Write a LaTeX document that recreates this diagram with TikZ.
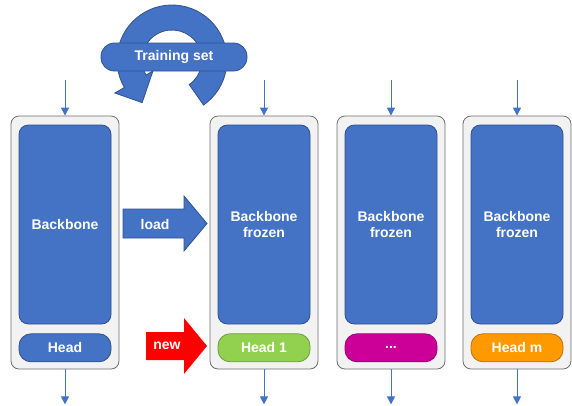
\documentclass[tikz,border=0pt]{standalone}
\usepackage{fontspec}
\setmainfont{Liberation Sans}
\usetikzlibrary{positioning}
\usetikzlibrary{calc,arrows.meta}

\definecolor{netblue}{HTML}{4472C4}
\definecolor{netedge}{HTML}{2F528F}
\definecolor{headgreen}{HTML}{92D050}
\definecolor{greenedge}{HTML}{6E9E3A}
\definecolor{headpink}{HTML}{CC0099}
\definecolor{pinkedge}{HTML}{99006F}
\definecolor{headorange}{HTML}{FF9900}
\definecolor{orangeedge}{HTML}{C07000}
\definecolor{boxgray}{HTML}{F2F2F2}
\definecolor{boxedge}{HTML}{6E6E6E}

\tikzset{
  label/.style={text=white,font=\fontsize{10.5}{12}\selectfont\bfseries},
  model/.style={draw=boxedge,fill=boxgray,rounded corners=6pt,line width=0.6pt,
    minimum width=81pt,minimum height=189.75pt},
  backbone/.style={label,draw=netedge,fill=netblue,rounded corners=7pt,line width=0.6pt,
    minimum width=69pt,minimum height=149.25pt,align=center},
  headbox/.style={label,draw=netedge,fill=netblue,rounded corners=9pt,line width=0.6pt,
    minimum width=69pt,minimum height=21pt},
  flow/.style={netblue,line width=0.75pt,-{Triangle[width=6pt,length=6pt]}},
}

\begin{document}
\begin{tikzpicture}[x=0.75pt,y=-0.75pt]
\useasboundingbox (0,0) rectangle (572,405);

% training loop
\coordinate (rc) at (172,60);
\filldraw[fill=netblue,draw=netedge,line width=0.6pt]
  ($(rc)+(55:55)$) arc[start angle=55,end angle=-210,radius=55]
  -- ($(rc)+(-210:66)$) -- ($(rc)+(-235:52)$) -- ($(rc)+(-210:22)$)
  -- ($(rc)+(-210:30)$) arc[start angle=-210,end angle=55,radius=30] -- cycle;
\node[headbox,minimum width=109.5pt,rounded corners=10pt] (train) at (174,57) {Training set};

% models
\node[model] (m1) at (65,242.5) {};
\node[backbone,below=6.75pt of m1.north] (bb1) {Backbone};
\node[headbox,below=6.75pt of bb1] (h1) {Head};

\node[model] (m2) at (264,242.5) {};
\node[backbone,below=6.75pt of m2.north] (bb2) {Backbone\\frozen};
\node[headbox,fill=headgreen,draw=greenedge,below=6.75pt of bb2] (h2) {Head 1};

\node[model] (m3) at (391,242.5) {};
\node[backbone,below=6.75pt of m3.north] (bb3) {Backbone\\frozen};
\node[headbox,fill=headpink,draw=pinkedge,below=6.75pt of bb3] (h3) {...};

\node[model] (m4) at (517,242.5) {};
\node[backbone,below=6.75pt of m4.north] (bb4) {Backbone\\frozen};
\node[headbox,fill=headorange,draw=orangeedge,below=6.75pt of bb4] (h4) {Head m};

% inputs and outputs
\foreach \i in {1,...,4} {
  \coordinate (in\i) at ($(m\i.north)+(0,-36)$);
  \coordinate (out\i) at ($(m\i.south)+(0,35)$);
  \draw[flow] (in\i) -- (m\i.north);
  \draw[flow] (m\i.south) -- (out\i);
}

% load / new arrows
\coordinate (loadtip) at (207,223.5);
\filldraw[fill=netblue,draw=netedge,line width=0.6pt] (loadtip) -- ++(-23,-27.5) -- ++(0,13)
  -- ++(-61,0) -- ++(0,29) -- ++(61,0) -- ++(0,13) -- cycle;
\node[label] (load) at (155,224) {load};

\coordinate (newtip) at (207,346);
\fill[red] (newtip) -- ++(-23,-28) -- ++(0,14) -- ++(-38,0) -- ++(0,28)
  -- ++(38,0) -- ++(0,14) -- cycle;
\node[label] (new) at (167,346) {new};
\end{tikzpicture}
\end{document}
